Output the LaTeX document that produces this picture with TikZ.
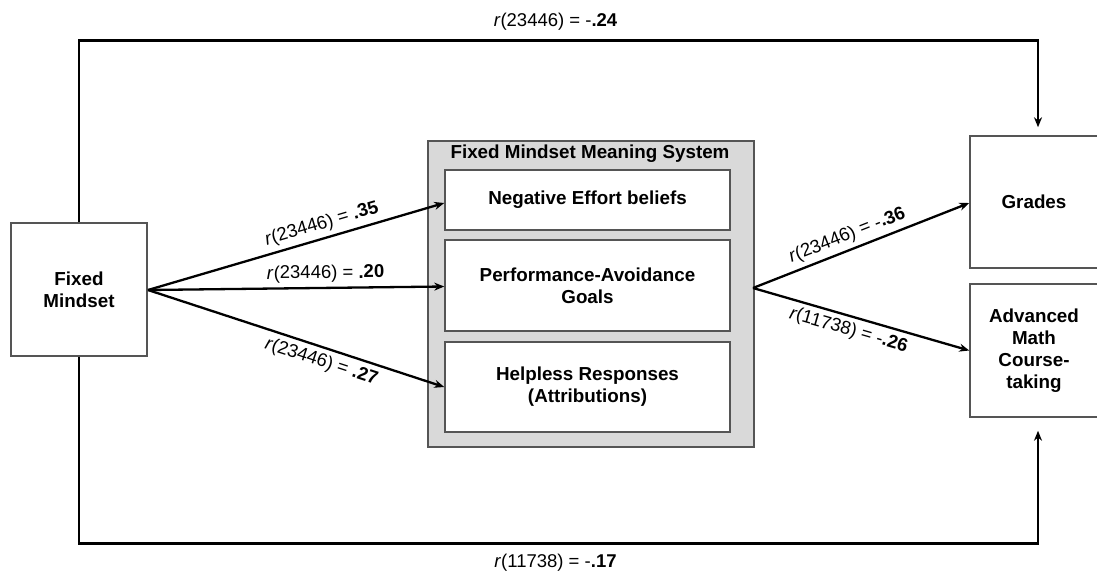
\documentclass[tikz,border=0pt]{standalone}
\usepackage{fontspec}
\setmainfont{Liberation Sans}
\usetikzlibrary{arrows.meta,calc}
\definecolor{sysgray}{HTML}{D9D9D9}
\definecolor{edge}{HTML}{555555}
\begin{document}
\begin{tikzpicture}[x=1pt,y=-1pt,
  box/.style={draw=edge, line width=1.5pt, fill=white, align=center,
    font=\fontsize{18.8}{22}\selectfont\bfseries, inner sep=0pt},
  conn/.style={line width=2.3pt, -{Stealth[length=10pt,width=8pt]}},
  lab/.style={font=\fontsize{18.5}{22}\selectfont, sloped, inner sep=4.5pt},
  hlab/.style={font=\fontsize{18.5}{22}\selectfont, inner sep=0pt}]
\useasboundingbox (0,0) rectangle (1097,574);
% nodes
\node[box, minimum width=136pt, minimum height=133pt] (fm) at (79,289.5) {Fixed\\Mindset};
\node[draw=edge, line width=1.5pt, fill=sysgray, minimum width=326pt, minimum height=306pt, inner sep=0pt] (sys) at (591,294) {};
\node[font=\fontsize{18.8}{22}\selectfont\bfseries, inner sep=0pt] (title) at (590,154) {Fixed Mindset Meaning System};
\node[box, minimum width=285pt, minimum height=60pt] (neg) at (587.5,200) {Negative Effort beliefs};
\node[box, minimum width=285pt, minimum height=91pt] (perf) at (587.5,285.5) {Performance-Avoidance\\Goals};
\node[box, minimum width=285pt, minimum height=90pt] (help) at (587.5,387) {Helpless Responses\\(Attributions)};
\node[box, minimum width=128pt, minimum height=132pt] (gr) at (1034,202) {Grades};
\node[box, minimum width=128pt, minimum height=133pt] (adv) at (1034,350.5) {Advanced\\Math\\Course-\\taking};
\coordinate (src) at (148,290);
\coordinate (hub) at (753,288);
\coordinate (tl) at (79,40.5);
\coordinate (tr) at (1038,40.5);
\coordinate (bl) at (79,543.5);
\coordinate (br) at (1038,543.5);
% connectors
\draw[conn] (src) -- ($(neg.west)+(0,3)$) node[lab, above, pos=0.6] {\textit{r}(23446) = \textbf{.35}};
\draw[conn] (src) -- ($(perf.west)+(0,1)$) node[lab, above, pos=0.6] {\textit{r}(23446) = \textbf{.20}};
\draw[conn] (src) -- (help.west) node[lab, below, pos=0.6] {\textit{r}(23446) = \textbf{.27}};
\draw[conn] (hub) -- ($(gr.west)+(0,1)$) node[lab, above, pos=0.46] {\textit{r}(23446) = -\textbf{.36}};
\draw[conn] (hub) -- (adv.west) node[lab, below, pos=0.46] {\textit{r}(11738) = -\textbf{.26}};
\draw[conn] (fm.north) -- (tl) -- (tr) -- ($(tr |- gr.north)+(0,-8)$);
\draw[conn] (fm.south) -- (bl) -- (br) -- ($(br |- adv.south)+(0,13)$);
\node[hlab] (toplab) at (555.5,22) {\textit{r}(23446) = -\textbf{.24}};
\node[hlab] (botlab) at (555.5,563) {\textit{r}(11738) = -\textbf{.17}};
\end{tikzpicture}
\end{document}
